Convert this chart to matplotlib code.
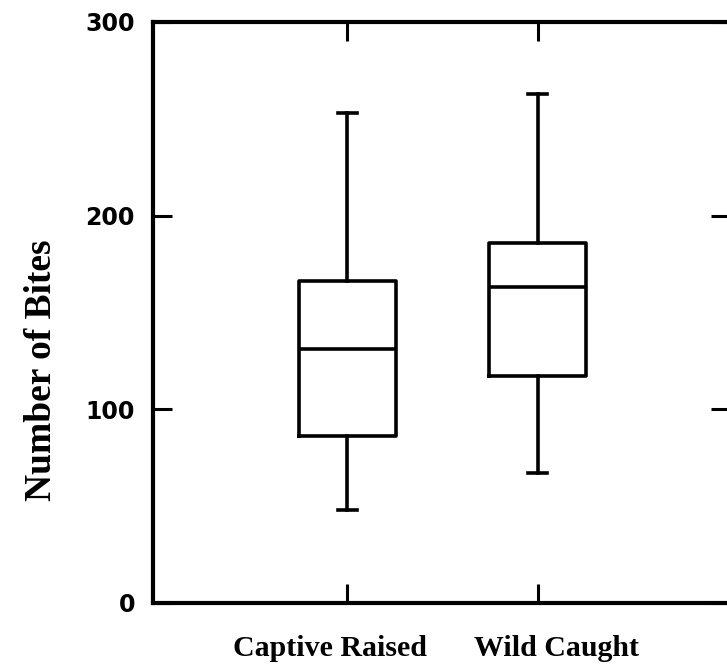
import matplotlib
matplotlib.use("Agg")
import matplotlib.pyplot as plt
import matplotlib.transforms as mtransforms
from matplotlib import font_manager

# data
groups = ["Captive Raised", "Wild Caught"]
whisker_low = [48, 67]
q1 = [86, 117]
median = [131, 163]
q3 = [166, 186]
whisker_high = [253, 263]

yticks = [0, 100, 200, 300]

installed = {f.name for f in font_manager.fontManager.ttflist}
tick_font = "Liberation Sans Narrow" if "Liberation Sans Narrow" in installed else "DejaVu Sans"
serif_font = "Liberation Serif"

fig = plt.figure(figsize=(7.27, 6.66), dpi=100)
ax = fig.add_axes([0.2105, 0.0946, 0.7935, 0.8724])

stats = []
for i, name in enumerate(groups):
    stats.append({
        "label": name,
        "whislo": whisker_low[i],
        "q1": q1[i],
        "med": median[i],
        "q3": q3[i],
        "whishi": whisker_high[i],
    })

lw = 2.6
ax.bxp(stats, positions=[1, 2], widths=0.51, capwidths=0.1, showfliers=False,
       boxprops=dict(color="black", linewidth=lw),
       whiskerprops=dict(color="black", linewidth=lw),
       capprops=dict(color="black", linewidth=lw),
       medianprops=dict(color="black", linewidth=lw))

ax.set_xlim(-0.02, 3.01)
ax.set_ylim(0, 300)
ax.set_yticks(yticks)
ax.set_yticklabels([str(v) for v in yticks], fontfamily=tick_font,
                   fontweight="bold", fontsize=17)
ax.set_xticks([1, 2])
ax.set_xticklabels(groups, fontfamily=serif_font, fontweight="bold", fontsize=21.5)

ax.tick_params(direction="in", length=14, width=2.2, top=True, right=True)
ax.tick_params(axis="y", pad=13)
ax.tick_params(axis="x", pad=23)

# the category labels sit a little off their ticks in the original
shifts = [-17, 19]
for lab, dx in zip(ax.get_xticklabels(), shifts):
    lab.set_transform(lab.get_transform() +
                      mtransforms.ScaledTranslation(dx / 100, 0, fig.dpi_scale_trans))

for sp in ax.spines.values():
    sp.set_linewidth(3)

ax.set_ylabel("Number of Bites", fontfamily=serif_font, fontweight="bold",
              fontsize=27, va="center")
ax.yaxis.set_label_coords(-0.193, 0.40)

fig.savefig("out.png", dpi=100)
